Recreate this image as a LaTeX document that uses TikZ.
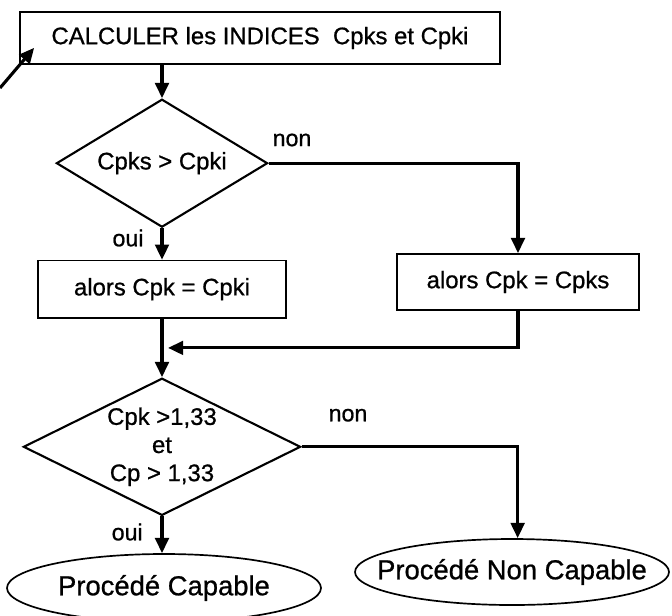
\documentclass[tikz,border=0pt]{standalone}
\usepackage{fontspec}
\setmainfont{Liberation Sans}
\newfontface\scanfont{Liberation Sans}[FakeBold=0.8]
\usepackage{tikz}
\usetikzlibrary{shapes.geometric,arrows.meta,positioning,calc}

\begin{document}
\begin{tikzpicture}[
    boite/.style={rectangle, draw, line width=1.2pt, minimum width=#1, minimum height=1.4cm, font=\scanfont\fontsize{17}{20}\selectfont, align=center},
    test/.style={diamond, draw, line width=1.5pt, inner sep=0pt, font=\scanfont\fontsize{17}{20}\selectfont, align=center},
    issue/.style={ellipse, draw, line width=1.2pt, inner xsep=-0.7cm, inner ysep=0pt, minimum width=7.85cm, minimum height=1.7cm, font=\scanfont\fontsize{19.5}{22}\selectfont},
    reponse/.style={font=\scanfont\fontsize{16.5}{19}\selectfont},
    arrow/.style={-{Triangle[length=3.8mm,width=3.4mm]}, line width=2.2pt}
]
\useasboundingbox (0,0) rectangle (16.8,-15.375);

% Calcul des indices
\node[boite=12cm, minimum height=1.3cm] (calc) at (6.5, -0.95) {CALCULER les INDICES \ Cpks et Cpki};
\coordinate (retour) at (0, -2.2);

% Premier test
\node[test, aspect=1.65, minimum width=5.28cm, minimum height=3.2cm] (test1) at (4.05, -4.08) {Cpks > Cpki};
\node[boite=6.2cm, minimum height=1.43cm] (cpki) at (4.05, -7.23) {alors Cpk = Cpki};
\node[boite=6.05cm] (cpks) at (12.95, -7.05) {alors Cpk = Cpks};
\node[reponse] (oui1) at (3.2, -5.95) {oui};
\node[reponse] (non1) at (7.3, -3.5) {non};

% Second test
\node[test, aspect=2, minimum width=6.93cm, minimum height=3.43cm] (test2) at (4.05, -11.17) {Cpk >1,33\\et\\Cp > 1,33};
\node[reponse] (oui2) at (3.18, -13.3) {oui};
\node[reponse] (non2) at (8.7, -10.38) {non};

% Conclusions
\node[issue] (ok) at (4.1, -14.7) {Procédé Capable};
\node[issue, minimum height=1.65cm] (nonok) at (12.8, -14.3) {Procédé Non Capable};

% Fleches
\draw[arrow] (retour) -- ([shift={(0.375,0.425)}]calc.south west);
\draw[arrow] (calc.south -| test1.north) -- (test1.north);
\draw[arrow] (test1.south) -- (cpki.north);
\draw[arrow] (test1.east) -| (cpks.north);
\coordinate (jonction) at ($(cpki.south)!0.5!(test2.north)$);
\draw[arrow] (cpki.south) -- (test2.north);
\draw[arrow] (cpks.south) |- ([xshift=0.15cm]jonction);
\draw[arrow] (test2.south) -- (test2.south |- ok.north);
\draw[arrow] (test2.east) -- ++(5.4,0) coordinate (coude) -- (coude |- nonok.north);

\end{tikzpicture}
\end{document}
